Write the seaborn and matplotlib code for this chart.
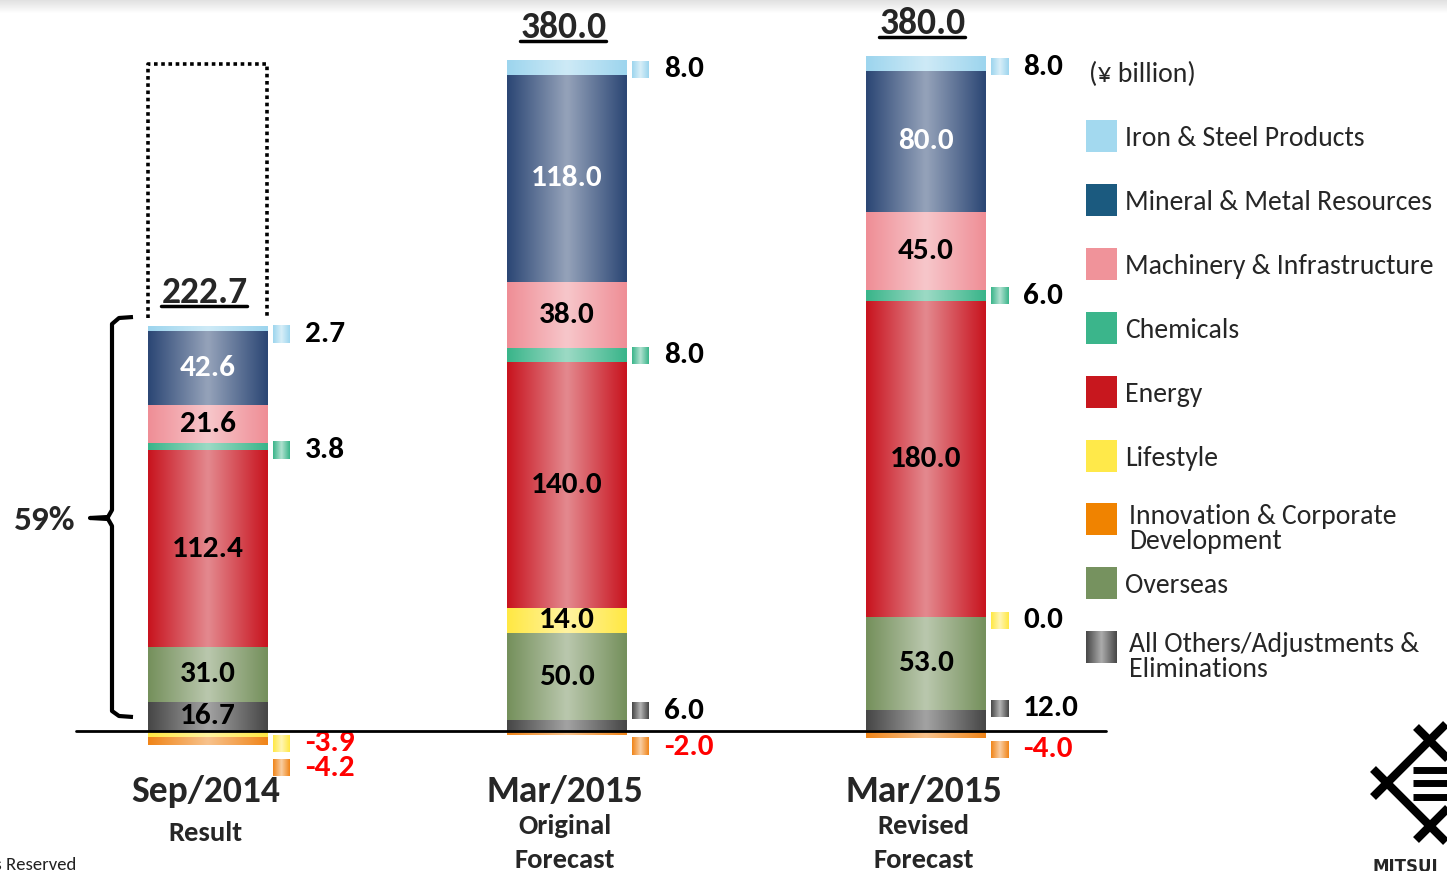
import numpy as np
import matplotlib
matplotlib.use("Agg")
import matplotlib.pyplot as plt
import seaborn as sns
from matplotlib.colors import to_rgb

# data (¥ billion)
periods = ["Sep/2014", "Mar/2015 Original", "Mar/2015 Revised"]
titles = ["Sep/2014", "Mar/2015", "Mar/2015"]
subtitles = [["Result"], ["Original", "Forecast"], ["Revised", "Forecast"]]

others = [16.7, 6.0, 12.0]
overseas = [31.0, 50.0, 53.0]
lifestyle = [-3.9, 14.0, 0.0]
innovation = [-4.2, -2.0, -4.0]
energy = [112.4, 140.0, 180.0]
chemicals = [3.8, 8.0, 6.0]
machinery = [21.6, 38.0, 45.0]
mineral = [42.6, 118.0, 80.0]
iron = [2.7, 8.0, 8.0]

# stacking order, bottom first
segments = [
    ("Others", others, "#474747"),
    ("Overseas", overseas, "#75905C"),
    ("Lifestyle", lifestyle, "#FFE844"),
    ("Innovation", innovation, "#F08519"),
    ("Energy", energy, "#C8141F"),
    ("Chemicals", chemicals, "#3AB58A"),
    ("Machinery", machinery, "#EF8E96"),
    ("Mineral", mineral, "#2C4775"),
    ("Iron", iron, "#9DD5EE"),
]

legend_items = [
    ("Iron & Steel Products", "#A3D9EF"),
    ("Mineral & Metal Resources", "#1B5A7F"),
    ("Machinery & Infrastructure", "#F0939A"),
    ("Chemicals", "#3BB58B"),
    ("Energy", "#C8171E"),
    ("Lifestyle", "#FFE94A"),
    ("Innovation & Corporate\nDevelopment", "#F08300"),
    ("Overseas", "#76925F"),
    ("All Others/Adjustments &\nEliminations", "grad:#474747"),
]

# where the small outside labels sit (data units)
side_pos = {(0, "Iron"): 226, (0, "Chemicals"): 160, (0, "Lifestyle"): -7, (0, "Innovation"): -21,
            (1, "Iron"): 377, (1, "Chemicals"): 214, (1, "Others"): 11.5, (1, "Innovation"): -9,
            (2, "Iron"): 378.5, (2, "Chemicals"): 248, (2, "Lifestyle"): 63, (2, "Others"): 13,
            (2, "Innovation"): -10.5}
# first subtitle line, pixels from top
sub_top = [833, 826, 826]

sns.set_theme(style="white")
plt.rcParams["font.family"] = ["Carlito", "DejaVu Sans"]

W, H = 1447, 871
fig = plt.figure(figsize=(W / 100, H / 100), dpi=100)
ax = fig.add_axes([0, 0, 1, 1])

X0, DX, Y0, SY = 208, 359, 731, 1.755
def px_x(p):
    return (p - X0) / DX
def px_y(p):
    return (Y0 - p) / SY

def grad(color, light=0.5, n=64):
    base = np.array(to_rgb(color))
    hi = base + (1 - base) * light
    t = np.abs(np.linspace(-1, 1, n))[:, None]
    return (hi * (1 - t) + base * t)[None, :, :]

bw = 0.334
pos_base = np.zeros(3)
neg_base = np.zeros(3)
stack = {}
for name, vals, col in segments:
    vals = np.array(vals)
    bottoms = np.where(vals >= 0, pos_base, neg_base)
    n0 = len(ax.patches)
    sns.barplot(x=periods, y=vals, order=periods, bottom=bottoms, color=col, width=bw,
                saturation=1, errorbar=None, linewidth=0, ax=ax)
    for p in ax.patches[n0:]:
        x0, w, y, h = p.get_x(), p.get_width(), p.get_y(), p.get_height()
        if h == 0:
            continue
        ax.imshow(grad(col), extent=[x0, x0 + w, min(y, y + h), max(y, y + h)],
                  aspect="auto", interpolation="bilinear", zorder=3)
    stack[name] = (bottoms.copy(), vals)
    pos_base = pos_base + np.where(vals >= 0, vals, 0)
    neg_base = neg_base + np.where(vals < 0, vals, 0)

# labels in and next to the bars
for name, vals, col in segments:
    bottoms, v = stack[name]
    for i in range(3):
        if abs(v[i]) >= 13:
            ax.text(i, bottoms[i] + v[i] / 2, f"{v[i]:.1f}", ha="center", va="center",
                    fontsize=22.5, fontweight="bold",
                    color="white" if name == "Mineral" else "black", zorder=5)
        elif (i, name) in side_pos:
            yc = side_pos[(i, name)]
            mx = i + bw / 2 + 5 / DX
            ax.imshow(grad(col, 0.6), extent=[mx, mx + 17 / DX, yc - 8.5 / SY, yc + 8.5 / SY],
                      aspect="auto", interpolation="bilinear", zorder=5)
            ax.text(mx + 32 / DX, yc, f"{v[i]:.1f}", ha="left", va="center", fontsize=22.5,
                    fontweight="bold", color="red" if v[i] < 0 else "black", zorder=5)

# totals, underlined
totals = [sum(s[1][i] for s in segments) for i in range(3)]
total_txt = []
for i in range(3):
    t = ax.text(i - 0.01, pos_base[i] + 13, f"{totals[i]:.1f}", ha="center", va="baseline",
                fontsize=27, fontweight="bold", zorder=5)
    total_txt.append(t)

# dotted box above Sep/2014 bar
ax.plot([-bw / 2, -bw / 2, bw / 2 - 0.003, bw / 2 - 0.003], [px_y(318), 380, 380, px_y(318)],
        color="black", lw=2.6, ls=(0, (1, 1)), zorder=4)

# baseline
ax.plot([px_x(76), px_x(1106)], [0, 0], color="black", lw=2, zorder=6)

# 59% brace
bx = [px_x(v) for v in [133, 119, 112, 112, 108, 90, 108, 112, 112, 119, 133]]
by = [px_y(v) for v in [317, 318, 324, 510, 517, 518, 519, 526, 711, 716, 717]]
ax.plot(bx, by, color="black", lw=3, solid_joinstyle="round", solid_capstyle="butt", zorder=4)
ax.text(px_x(45), px_y(520), "59%", ha="center", va="center", fontsize=25.5, fontweight="bold")

# period labels
for i in range(3):
    ax.text(i - 0.006, px_y(791), titles[i], ha="center", va="center", fontsize=27, fontweight="bold")
    for k, s in enumerate(subtitles[i]):
        ax.text(i - 0.006, px_y(sub_top[i] + 34 * k), s, ha="center", va="center", fontsize=20.5,
                fontweight="bold")

ax.set_xlim(px_x(0), px_x(W))
ax.set_ylim(px_y(H), px_y(0))
ax.axis("off")

# underline totals
fig.canvas.draw()
inv = ax.transData.inverted()
for t in total_txt:
    bb = t.get_window_extent()
    (xa, _), (xb, _) = inv.transform([[bb.x0, 0], [bb.x1, 0]])
    yb = t.get_position()[1] - 3 / SY
    ax.plot([xa, xb], [yb, yb], color="black", lw=2.5, zorder=5)
ax.set_xlim(px_x(0), px_x(W))
ax.set_ylim(px_y(H), px_y(0))

# overlay in pixel space: legend, logo, footer
ov = fig.add_axes([0, 0, 1, 1])
ov.set_xlim(0, W)
ov.set_ylim(H, 0)
ov.axis("off")
ov.patch.set_visible(False)

# faint shadow along the top edge
shade = np.zeros((16, 2, 4))
shade[:, :, 3] = np.linspace(0.12, 0, 16)[:, None]
ov.imshow(shade, extent=[0, W, 14, 0], aspect="auto", interpolation="bilinear", zorder=0)

ov.text(1089, 74, "(¥ billion)", ha="left", va="center", fontsize=20)
for k, (lab, col) in enumerate(legend_items):
    yc = 136 + 64 * k - (1 if k > 5 else 0)
    if col.startswith("grad:"):
        ov.imshow(grad(col[5:], 0.55), extent=[1086, 1117, yc + 16, yc - 16], aspect="auto",
                  interpolation="bilinear")
    else:
        ov.add_patch(plt.Rectangle((1086, yc - 16), 31, 32, color=col, lw=0))
    if "\n" in lab:
        ov.text(1129, yc - 15, lab, ha="left", va="top", fontsize=20, linespacing=1.0)
    else:
        ov.text(1125, yc + 2, lab, ha="left", va="center", fontsize=20)

# logo
for (xa, ya), (xb, yb) in [((1373, 797), (1446, 724)), ((1373, 769), (1446, 842)),
                           ((1416, 727), (1490, 801)), ((1416, 840), (1490, 766))]:
    ov.plot([xa, xb], [ya, yb], color="black", lw=6, solid_capstyle="butt")
for yb in [770, 783, 797]:
    ov.plot([1413, 1447], [yb, yb], color="black", lw=5, solid_capstyle="butt")
ov.text(1373, 858, "MITSUI", ha="left", va="top", fontsize=12, fontweight="bold", family="DejaVu Sans")

ov.text(76, 857, "All Rights Reserved", ha="right", va="top", fontsize=13.5, color="#222222")

fig.savefig("out.png", dpi=100)
